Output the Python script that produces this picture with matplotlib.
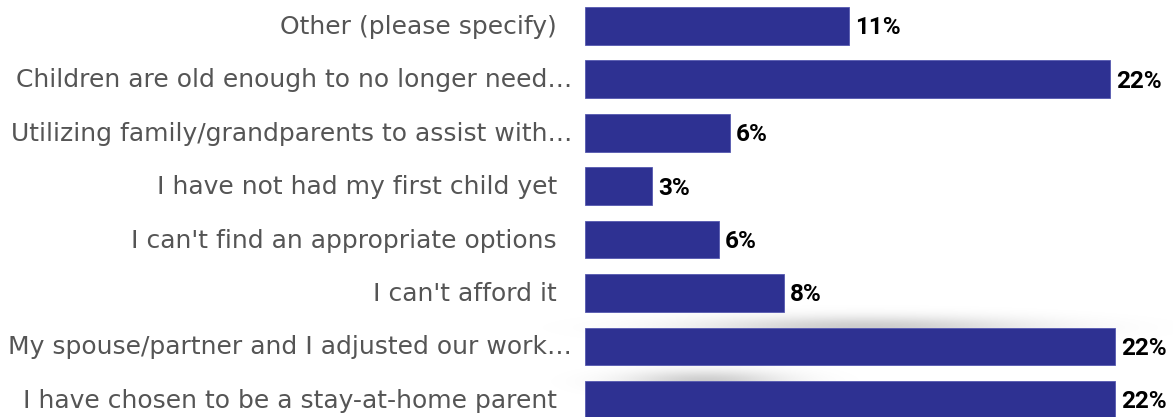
import numpy as np
import matplotlib
matplotlib.use("Agg")
import matplotlib.pyplot as plt
import matplotlib.transforms as mtransforms

# survey answers, top to bottom
labels = [
    "Other (please specify)",
    "Children are old enough to no longer need…",
    "Utilizing family/grandparents to assist with…",
    "I have not had my first child yet",
    "I can't find an appropriate options",
    "I can't afford it",
    "My spouse/partner and I adjusted our work…",
    "I have chosen to be a stay-at-home parent",
]
values = [10.95, 21.8, 6.0, 2.8, 5.55, 8.25, 22.0, 22.0]

bar_color = "#2E3192"
W, H = 1173, 417

fig = plt.figure(figsize=(W / 100, H / 100), dpi=100)
fig.patch.set_facecolor("white")

# soft grey smudges behind the lower bars
yy, xx = np.mgrid[0:H, 0:W]
def blob(cx, cy, sx, sy):
    return np.exp(-(((xx - cx) / sx) ** 2 + ((yy - cy) / sy) ** 2) / 2)
shade = 0.2 * np.clip(blob(865, 327, 115, 8) + blob(705, 381, 55, 8), 0, 1)
img = np.zeros((H, W, 4))
img[..., 3] = shade
fig.figimage(img, xo=0, yo=0, origin="upper", zorder=-1)

ax = fig.add_axes([585 / W, 0, 1 - 585 / W, 1])
ax.set_facecolor("none")

y = np.arange(len(labels))
ax.barh(y, values, height=0.71, color=bar_color, edgecolor="#5558b0", linewidth=0.6)

ax.set_xlim(0, 22.0 * (W - 585) / 530)
ax.set_ylim(7.318, -0.477)

for s in ax.spines.values():
    s.set_visible(False)
ax.set_xticks([])
ax.set_yticks([])

# category names, right aligned left of the bars
lab_tr = mtransforms.blended_transform_factory(ax.transAxes, ax.transData)
for i, lab in enumerate(labels):
    dx = -13 if lab.endswith("…") else -28
    ax.annotate(lab, (0, i), xycoords=lab_tr, xytext=(dx, -1), textcoords="offset pixels",
                ha="right", va="center", fontsize=18, color="#555555",
                family=["DejaVu Sans"])

# percentage labels
for i, v in enumerate(values):
    ax.annotate(f"{v:.0f}%", (v, i), xytext=(6, -2), textcoords="offset pixels",
                ha="left", va="center", fontsize=17.5, fontweight="bold", color="black",
                family=["Roboto", "DejaVu Sans"])

fig.savefig("out.png", dpi=100)
